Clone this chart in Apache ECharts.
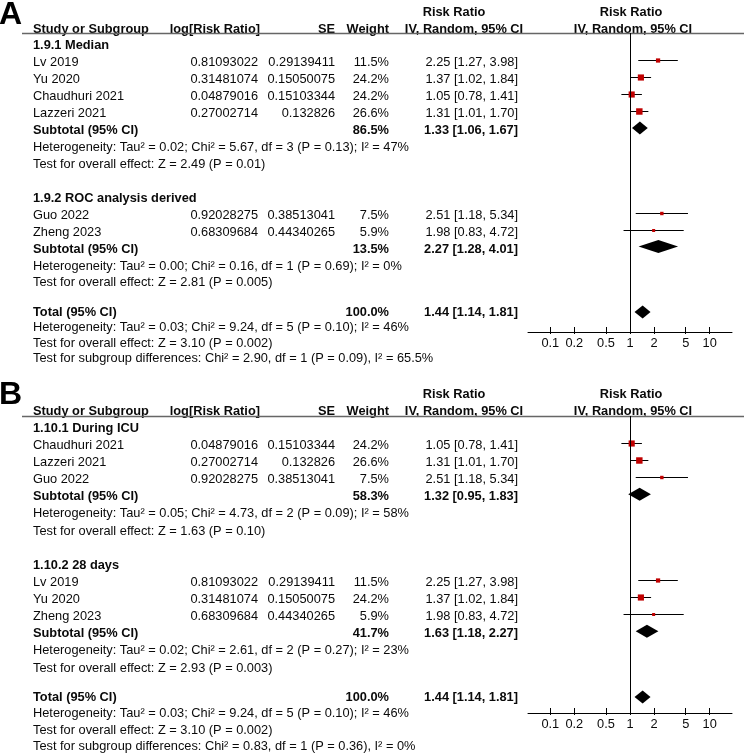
<!DOCTYPE html>
<html>
<head>
<meta charset="utf-8">
<script src="https://cdn.jsdelivr.net/npm/echarts@6/dist/echarts.min.js"></script>
<style>
html,body{margin:0;padding:0;background:#fff;}
#c{width:744px;height:756px;}
</style>
</head>
<body>
<div id="c"></div>
<script>
// ---------------- DATA ----------------
const studies = ['Lv 2019', 'Yu 2020', 'Chaudhuri 2021', 'Lazzeri 2021', 'Guo 2022', 'Zheng 2023'];
const logRR = [0.81093022, 0.31481074, 0.04879016, 0.27002714, 0.92028275, 0.68309684];
const seVals = [0.29139411, 0.15050075, 0.15103344, 0.132826, 0.38513041, 0.44340265];
const weights = [11.5, 24.2, 24.2, 26.6, 7.5, 5.9];
const rr = [2.25, 1.37, 1.05, 1.31, 2.51, 1.98];
const rrLow = [1.27, 1.02, 0.78, 1.01, 1.18, 0.83];
const rrHigh = [3.98, 1.84, 1.41, 1.70, 5.34, 4.72];

// Panel A subgroups
const groupNamesA = ['1.9.1 Median', '1.9.2 ROC analysis derived'];
const groupMembersA = [[0, 1, 2, 3], [4, 5]];
const subWeightA = [86.5, 13.5];
const subRRA = [1.33, 2.27];
const subLowA = [1.06, 1.28];
const subHighA = [1.67, 4.01];
const subHetA = [
  'Heterogeneity: Tau² = 0.02; Chi² = 5.67, df = 3 (P = 0.13); I² = 47%',
  'Heterogeneity: Tau² = 0.00; Chi² = 0.16, df = 1 (P = 0.69); I² = 0%'
];
const subEffA = ['Test for overall effect: Z = 2.49 (P = 0.01)', 'Test for overall effect: Z = 2.81 (P = 0.005)'];
const subDiffA = 'Test for subgroup differences: Chi² = 2.90, df = 1 (P = 0.09), I² = 65.5%';

// Panel B subgroups
const groupNamesB = ['1.10.1 During ICU', '1.10.2 28 days'];
const groupMembersB = [[2, 3, 4], [0, 1, 5]];
const subWeightB = [58.3, 41.7];
const subRRB = [1.32, 1.63];
const subLowB = [0.95, 1.18];
const subHighB = [1.83, 2.27];
const subHetB = [
  'Heterogeneity: Tau² = 0.05; Chi² = 4.73, df = 2 (P = 0.09); I² = 58%',
  'Heterogeneity: Tau² = 0.02; Chi² = 2.61, df = 2 (P = 0.27); I² = 23%'
];
const subEffB = ['Test for overall effect: Z = 1.63 (P = 0.10)', 'Test for overall effect: Z = 2.93 (P = 0.003)'];
const subDiffB = 'Test for subgroup differences: Chi² = 0.83, df = 1 (P = 0.36), I² = 0%';

// Overall (same in both panels)
const totalWeight = 100.0;
const totalRR = 1.44, totalLow = 1.14, totalHigh = 1.81;
const totalHet = 'Heterogeneity: Tau² = 0.03; Chi² = 9.24, df = 5 (P = 0.10); I² = 46%';
const totalEff = 'Test for overall effect: Z = 3.10 (P = 0.002)';

// Axis ticks
const tickValues = [0.1, 0.2, 0.5, 1, 2, 5, 10];
const tickLabels = ['0.1', '0.2', '0.5', '1', '2', '5', '10'];

// ---------------- LAYOUT ----------------
const FONT = '"Liberation Sans", Arial, sans-serif';
const FS = 12.8;
const COL = { name: 33, logRR: 258, se: 335, weight: 389, ci: 518, ciHead: 464, ciHead2: 454, plotHead: 632 };
const panels = [
  { label: 'A', labelY: 15, headerY: 29, lineY: 33, pitch: 16.93, totalY: 312, footPitch: 15.6, axisY: 332,
    names: groupNamesA, members: groupMembersA, sw: subWeightA, srr: subRRA, slo: subLowA, shi: subHighA,
    het: subHetA, eff: subEffA, diff: subDiffA },
  { label: 'B', labelY: 395, headerY: 411, lineY: 416, pitch: 17.14, totalY: 697, footPitch: 16.6, axisY: 713,
    names: groupNamesB, members: groupMembersB, sw: subWeightB, srr: subRRB, slo: subLowB, shi: subHighB,
    het: subHetB, eff: subEffB, diff: subDiffB }
];

const fmt2 = v => v.toFixed(2);
const ciText = (m, l, h) => fmt2(m) + ' [' + fmt2(l) + ', ' + fmt2(h) + ']';
const MARK_OFF = -2.5;

const graphics = [];
function txt(x, y, s, opt) {
  opt = opt || {};
  graphics.push({
    type: 'text', x: x, y: y, silent: true,
    style: {
      text: s, fill: opt.fill || '#0a0a0a',
      font: (opt.bold ? 'bold ' : '') + (opt.size || FS) + 'px ' + FONT,
      textAlign: opt.align || 'left', textVerticalAlign: 'middle'
    }
  });
}

const grids = [], xAxes = [], yAxes = [], series = [];

panels.forEach((P, pi) => {
  // panel letter
  txt(-1, P.labelY, P.label, { bold: true, size: 32, fill: '#000' });
  // headers
  txt(COL.ciHead2, P.headerY - 17, 'Risk Ratio', { bold: true, align: 'center' });
  txt(COL.plotHead - 1, P.headerY - 17, 'Risk Ratio', { bold: true, align: 'center' });
  txt(COL.name, P.headerY, 'Study or Subgroup', { bold: true });
  txt(260, P.headerY, 'log[Risk Ratio]', { bold: true, align: 'right' });
  txt(COL.se, P.headerY, 'SE', { bold: true, align: 'right' });
  txt(COL.weight, P.headerY, 'Weight', { bold: true, align: 'right' });
  txt(COL.ciHead, P.headerY, 'IV, Random, 95% CI', { bold: true, align: 'center' });
  txt(COL.plotHead + 1, P.headerY, 'IV, Random, 95% CI', { bold: true, align: 'center' });
  graphics.push({ type: 'line', silent: true, shape: { x1: 22, y1: P.lineY + 0.5, x2: 744, y2: P.lineY + 0.5 },
    style: { stroke: '#666', lineWidth: 1.5 } });

  const studyData = [], diamondData = [];
  let r = 1;
  P.names.forEach((gname, gi) => {
    txt(COL.name, P.headerY + r * P.pitch, gname, { bold: true }); r++;
    P.members[gi].forEach(si => {
      const y = P.headerY + r * P.pitch;
      txt(COL.name, y, studies[si]);
      txt(COL.logRR, y, String(logRR[si]), { align: 'right' });
      txt(COL.se, y, String(seVals[si]), { align: 'right' });
      txt(COL.weight, y, weights[si].toFixed(1) + '%', { align: 'right' });
      txt(COL.ci, y, ciText(rr[si], rrLow[si], rrHigh[si]), { align: 'right' });
      studyData.push([Math.log10(rr[si]), y + MARK_OFF, Math.log10(rrLow[si]), Math.log10(rrHigh[si]),
        1.25 * Math.sqrt(weights[si])]);
      r++;
    });
    const ys = P.headerY + r * P.pitch;
    txt(COL.name, ys, 'Subtotal (95% CI)', { bold: true });
    txt(COL.weight, ys, P.sw[gi].toFixed(1) + '%', { bold: true, align: 'right' });
    txt(COL.ci, ys, ciText(P.srr[gi], P.slo[gi], P.shi[gi]), { bold: true, align: 'right' });
    diamondData.push([Math.log10(P.srr[gi]), ys + MARK_OFF, Math.log10(P.slo[gi]), Math.log10(P.shi[gi]), 6.5]);
    r++;
    txt(COL.name, P.headerY + r * P.pitch, P.het[gi]); r++;
    txt(COL.name, P.headerY + r * P.pitch, P.eff[gi]); r++;
    r++; // blank row
  });
  // total
  txt(COL.name, P.totalY, 'Total (95% CI)', { bold: true });
  txt(COL.weight, P.totalY, totalWeight.toFixed(1) + '%', { bold: true, align: 'right' });
  txt(COL.ci, P.totalY, ciText(totalRR, totalLow, totalHigh), { bold: true, align: 'right' });
  diamondData.push([Math.log10(totalRR), P.totalY, Math.log10(totalLow), Math.log10(totalHigh), 6.5]);
  txt(COL.name, P.totalY + P.footPitch, totalHet);
  txt(COL.name, P.totalY + 2 * P.footPitch, totalEff);
  txt(COL.name, P.totalY + 3 * P.footPitch, P.diff);

  // grid for plot
  grids.push({ left: 528, right: 12, top: P.lineY, height: P.axisY - P.lineY, containLabel: false });
  const xmin = -1.28, xmax = 1.28;
  const logTicks = tickValues.map(v => Math.log10(v));
  const labelOf = v => {
    let best = 0;
    logTicks.forEach((t, i) => { if (Math.abs(t - v) < Math.abs(logTicks[best] - v)) best = i; });
    return tickLabels[best];
  };
  xAxes.push({
    type: 'value', gridIndex: pi, min: xmin, max: xmax, position: 'bottom',
    axisLine: { show: true, lineStyle: { color: '#000', width: 1 } },
    axisTick: { show: true, inside: true, length: 5, customValues: logTicks, lineStyle: { color: '#000', width: 1 } },
    axisLabel: { show: true, customValues: logTicks, formatter: labelOf, margin: 5,
      fontSize: FS, fontFamily: FONT, color: '#0a0a0a' },
    splitLine: { show: false }
  });
  xAxes.push({
    type: 'value', gridIndex: pi, min: xmin, max: xmax, position: 'bottom',
    axisLine: { show: false },
    axisTick: { show: true, inside: false, length: 2, customValues: logTicks, lineStyle: { color: '#000', width: 1 } },
    axisLabel: { show: false },
    splitLine: { show: false }
  });
  yAxes.push({ type: 'value', gridIndex: pi, min: P.lineY, max: P.axisY, inverse: true, show: false });

  const xi = pi * 2;
  series.push({
    type: 'custom', xAxisIndex: xi, yAxisIndex: pi, data: studyData, silent: true, animation: false,
    clip: false,
    renderItem: (params, api) => {
      const c = api.coord([api.value(0), api.value(1)]);
      const l = api.coord([api.value(2), api.value(1)]);
      const h = api.coord([api.value(3), api.value(1)]);
      const s = api.value(4);
      const yy = Math.round(c[1]) + 0.5;
      return { type: 'group', children: [
        { type: 'line', shape: { x1: l[0], y1: yy, x2: h[0], y2: yy }, style: { stroke: '#000', lineWidth: 1 } },
        { type: 'rect', shape: { x: c[0] - s / 2, y: yy - s / 2, width: s, height: s }, style: { fill: '#c00000' } }
      ] };
    },
    markLine: {
      silent: true, symbol: 'none', animation: false,
      label: { show: false },
      lineStyle: { color: '#000', width: 1, type: 'solid' },
      data: [{ xAxis: 0 }]
    }
  });
  series.push({
    type: 'custom', xAxisIndex: xi, yAxisIndex: pi, data: diamondData, silent: true, animation: false,
    clip: false,
    renderItem: (params, api) => {
      const c = api.coord([api.value(0), api.value(1)]);
      const l = api.coord([api.value(2), api.value(1)]);
      const h = api.coord([api.value(3), api.value(1)]);
      const hh = api.value(4);
      return { type: 'polygon', shape: { points: [[l[0], c[1]], [c[0], c[1] - hh], [h[0], c[1]], [c[0], c[1] + hh]] },
        style: { fill: '#000' } };
    }
  });
});

const chart = echarts.init(document.getElementById('c'), null, { renderer: 'canvas' });
chart.setOption({
  animation: false,
  backgroundColor: '#fff',
  grid: grids,
  xAxis: xAxes,
  yAxis: yAxes,
  series: series,
  graphic: { elements: graphics }
});
</script>
</body>
</html>
